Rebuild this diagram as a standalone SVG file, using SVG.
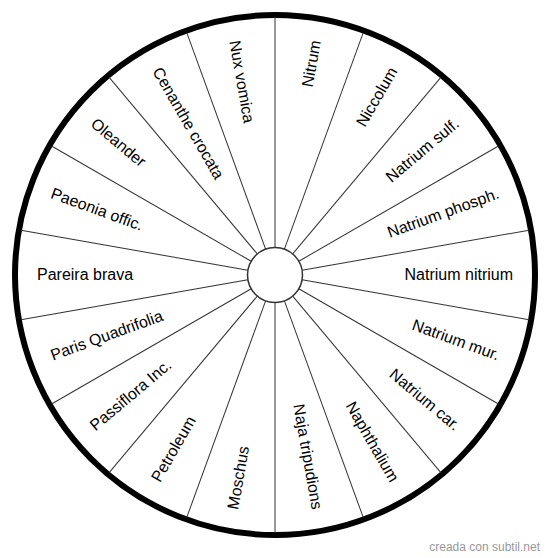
<svg xmlns="http://www.w3.org/2000/svg" width="550" height="558" viewBox="0 0 550 558">
<style>
.spoke{stroke:#333;stroke-width:1;fill:none}
.lbl{font-family:"Liberation Sans",Arial,sans-serif;font-size:16px;fill:#000}
.r{text-anchor:end}
.l{text-anchor:start}
.wm{font-family:"Liberation Sans",Arial,sans-serif;font-size:12px;fill:#999}
</style>
<rect width="550" height="558" fill="#fff"/>
<g id="wheel" transform="translate(275,275)">
<circle id="outer" r="260" fill="#fff" stroke="#000" stroke-width="6"/>
<g id="connectors">
<line class="spoke" x1="0" y1="-27.5" x2="0" y2="-258" transform="rotate(0)"/>
<line class="spoke" x1="0" y1="-27.5" x2="0" y2="-258" transform="rotate(20)"/>
<line class="spoke" x1="0" y1="-27.5" x2="0" y2="-258" transform="rotate(40)"/>
<line class="spoke" x1="0" y1="-27.5" x2="0" y2="-258" transform="rotate(60)"/>
<line class="spoke" x1="0" y1="-27.5" x2="0" y2="-258" transform="rotate(80)"/>
<line class="spoke" x1="0" y1="-27.5" x2="0" y2="-258" transform="rotate(100)"/>
<line class="spoke" x1="0" y1="-27.5" x2="0" y2="-258" transform="rotate(120)"/>
<line class="spoke" x1="0" y1="-27.5" x2="0" y2="-258" transform="rotate(140)"/>
<line class="spoke" x1="0" y1="-27.5" x2="0" y2="-258" transform="rotate(160)"/>
<line class="spoke" x1="0" y1="-27.5" x2="0" y2="-258" transform="rotate(180)"/>
<line class="spoke" x1="0" y1="-27.5" x2="0" y2="-258" transform="rotate(200)"/>
<line class="spoke" x1="0" y1="-27.5" x2="0" y2="-258" transform="rotate(220)"/>
<line class="spoke" x1="0" y1="-27.5" x2="0" y2="-258" transform="rotate(240)"/>
<line class="spoke" x1="0" y1="-27.5" x2="0" y2="-258" transform="rotate(260)"/>
<line class="spoke" x1="0" y1="-27.5" x2="0" y2="-258" transform="rotate(280)"/>
<line class="spoke" x1="0" y1="-27.5" x2="0" y2="-258" transform="rotate(300)"/>
<line class="spoke" x1="0" y1="-27.5" x2="0" y2="-258" transform="rotate(320)"/>
<line class="spoke" x1="0" y1="-27.5" x2="0" y2="-258" transform="rotate(340)"/>
</g>
<circle id="hub" r="27.5" fill="#fff" stroke="#333" stroke-width="1.5"/>
<g id="n-nitrum" transform="rotate(-80)"><text class="lbl r" x="238" y="4.5">Nitrum</text></g>
<g id="n-niccolum" transform="rotate(-60)"><text class="lbl r" x="238" y="4.5">Niccolum</text></g>
<g id="n-natrium-sulf" transform="rotate(-40)"><text class="lbl r" x="238" y="4.5">Natrium sulf.</text></g>
<g id="n-natrium-phosph" transform="rotate(-20)"><text class="lbl r" x="238" y="4.5">Natrium phosph.</text></g>
<g id="n-natrium-nitrium" transform="rotate(0)"><text class="lbl r" x="238" y="4.5">Natrium nitrium</text></g>
<g id="n-natrium-mur" transform="rotate(20)"><text class="lbl r" x="238" y="4.5">Natrium mur.</text></g>
<g id="n-natrium-car" transform="rotate(40)"><text class="lbl r" x="238" y="4.5">Natrium car.</text></g>
<g id="n-naphthalium" transform="rotate(60)"><text class="lbl r" x="238" y="4.5">Naphthalium</text></g>
<g id="n-naja" transform="rotate(80)"><text class="lbl r" x="238" y="4.5">Naja tripudions</text></g>
<g id="n-moschus" transform="rotate(-80)"><text class="lbl l" x="-238" y="4.5">Moschus</text></g>
<g id="n-petroleum" transform="rotate(-60)"><text class="lbl l" x="-238" y="4.5">Petroleum</text></g>
<g id="n-passiflora" transform="rotate(-40)"><text class="lbl l" x="-238" y="4.5">Passiflora Inc.</text></g>
<g id="n-paris" transform="rotate(-20)"><text class="lbl l" x="-238" y="4.5">Paris Quadrifolia</text></g>
<g id="n-pareira" transform="rotate(0)"><text class="lbl l" x="-238" y="4.5">Pareira brava</text></g>
<g id="n-paeonia" transform="rotate(20)"><text class="lbl l" x="-238" y="4.5">Paeonia offic.</text></g>
<g id="n-oleander" transform="rotate(40)"><text class="lbl l" x="-238" y="4.5">Oleander</text></g>
<g id="n-cenanthe" transform="rotate(60)"><text class="lbl l" x="-238" y="4.5">Cenanthe crocata</text></g>
<g id="n-nux" transform="rotate(80)"><text class="lbl l" x="-238" y="4.5">Nux vomica</text></g>
</g>
<text class="wm" x="540" y="551" text-anchor="end">creada con subtil.net</text>
</svg>
